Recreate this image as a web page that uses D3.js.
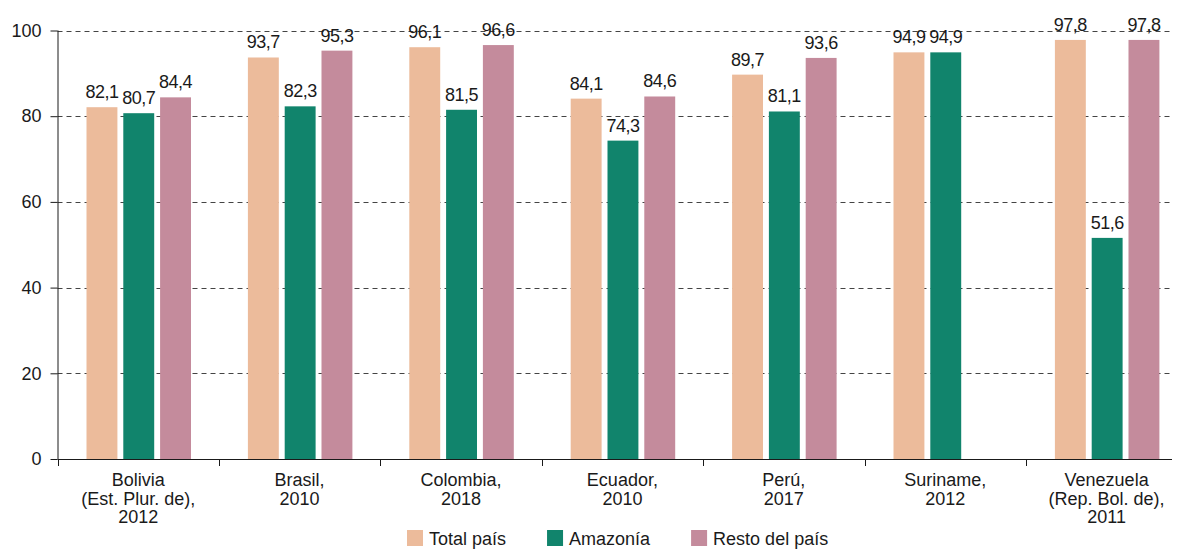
<!DOCTYPE html>
<html><head><meta charset="utf-8">
<script src="https://cdn.jsdelivr.net/npm/d3@7"></script>
<style>
body{margin:0;background:#fff;}
svg{display:block;font-family:"Liberation Sans",Arial,Helvetica,sans-serif;}
</style></head>
<body>
<svg id="chart" width="1177" height="549"></svg>
<script>
const categories = [
  ["Bolivia","(Est. Plur. de),","2012"],
  ["Brasil,","2010"],
  ["Colombia,","2018"],
  ["Ecuador,","2010"],
  ["Perú,","2017"],
  ["Suriname,","2012"],
  ["Venezuela","(Rep. Bol. de),","2011"]
];
const seriesNames = ["Total país","Amazonía","Resto del país"];
const totalPais = [82.1, 93.7, 96.1, 84.1, 89.7, 94.9, 97.8];
const amazonia  = [80.7, 82.3, 81.5, 74.3, 81.1, 94.9, 51.6];
const restoPais = [84.4, 95.3, 96.6, 84.6, 93.6, null, 97.8];
const yTicks = [0, 20, 40, 60, 80, 100];
const colors = ["#ECBB9B", "#11846C", "#C48B9C"];

const seriesValues = [totalPais, amazonia, restoPais];
const svg = d3.select("#chart");
const x0 = 57.5, yTop = 30.5, yBot = 459, xRight = 1172;
const FS = 18;
const catKeys = categories.map((c,i)=>i);

const x = d3.scaleBand().domain(catKeys).range([x0, x0 + 7*161.4]).paddingInner(0).paddingOuter(0);
const xs = d3.scaleBand().domain(d3.range(3)).range([29, 133.5]).paddingInner(0.16).paddingOuter(0);
const y = d3.scaleLinear().domain([0,100]).range([yBot, yTop]);

const fmt = v => d3.format(".1f")(v).replace(".", ",");

// grid
svg.append("g").selectAll("line").data(yTicks.filter(t=>t>0)).join("line")
  .attr("x1", x0).attr("x2", xRight)
  .attr("y1", d=>Math.round(y(d))+0.5).attr("y2", d=>Math.round(y(d))+0.5)
  .attr("stroke", "#444").attr("stroke-width", 1).attr("stroke-dasharray", "5,4");

// bars
const rows = [];
catKeys.forEach(ci => seriesValues.forEach((arr, si) => {
  if (arr[ci] != null) rows.push({ci, si, v: arr[ci]});
}));
svg.append("g").selectAll("rect").data(rows).join("rect")
  .attr("x", d => x(d.ci) + xs(d.si))
  .attr("width", xs.bandwidth())
  .attr("y", d => y(d.v))
  .attr("height", d => yBot - y(d.v))
  .attr("fill", d => colors[d.si]);

// value labels
svg.append("g").selectAll("text").data(rows).join("text")
  .attr("x", d => x(d.ci) + xs(d.si) + xs.bandwidth()/2)
  .attr("y", d => y(d.v) - 9)
  .attr("text-anchor", "middle")
  .attr("font-size", FS)
  .attr("letter-spacing", "-0.5px")
  .attr("fill", "#1a1a1a")
  .text(d => fmt(d.v));

// y axis
const yAxis = svg.append("g").attr("transform", `translate(${x0},0)`)
  .call(d3.axisLeft(y).tickValues(yTicks).tickSize(7).tickPadding(9).tickFormat(d3.format("d")));
yAxis.select(".domain").attr("d", `M0.5,${yTop}V${yBot}`).attr("stroke", "#1a1a1a");
yAxis.selectAll(".tick line").attr("stroke", "#1a1a1a");
yAxis.selectAll(".tick text").attr("font-size", FS).attr("fill", "#1a1a1a").attr("font-family", "Liberation Sans, Arial, sans-serif");

// x axis
svg.append("line").attr("x1", x0).attr("x2", xRight).attr("y1", yBot+0.5).attr("y2", yBot+0.5).attr("stroke", "#1a1a1a");
svg.append("g").selectAll("line").data(catKeys).join("line")
  .attr("x1", d => Math.round(x(d))+0.5).attr("x2", d => Math.round(x(d))+0.5)
  .attr("y1", yBot).attr("y2", yBot+7).attr("stroke", "#1a1a1a");

const xl = svg.append("g").selectAll("text").data(catKeys).join("text")
  .attr("text-anchor", "middle").attr("font-size", FS).attr("fill", "#1a1a1a")
  .attr("transform", d => `translate(${x(d)+x.bandwidth()/2},486)`);
xl.selectAll("tspan").data(d => categories[d]).join("tspan")
  .attr("x", 0).attr("y", (d,i) => i*18.5).text(d => d);

// legend
const lg = svg.append("g");
let lx = 407;
seriesNames.forEach((name, i) => {
  lg.append("rect").attr("x", lx).attr("y", 530).attr("width", 16).attr("height", 16).attr("fill", colors[i]);
  const t = lg.append("text").attr("x", lx + 22).attr("y", 545).attr("font-size", FS).attr("fill", "#1a1a1a").text(name);
  lx = lx + 22 + t.node().getComputedTextLength() + 41;
});
</script>
</body></html>
